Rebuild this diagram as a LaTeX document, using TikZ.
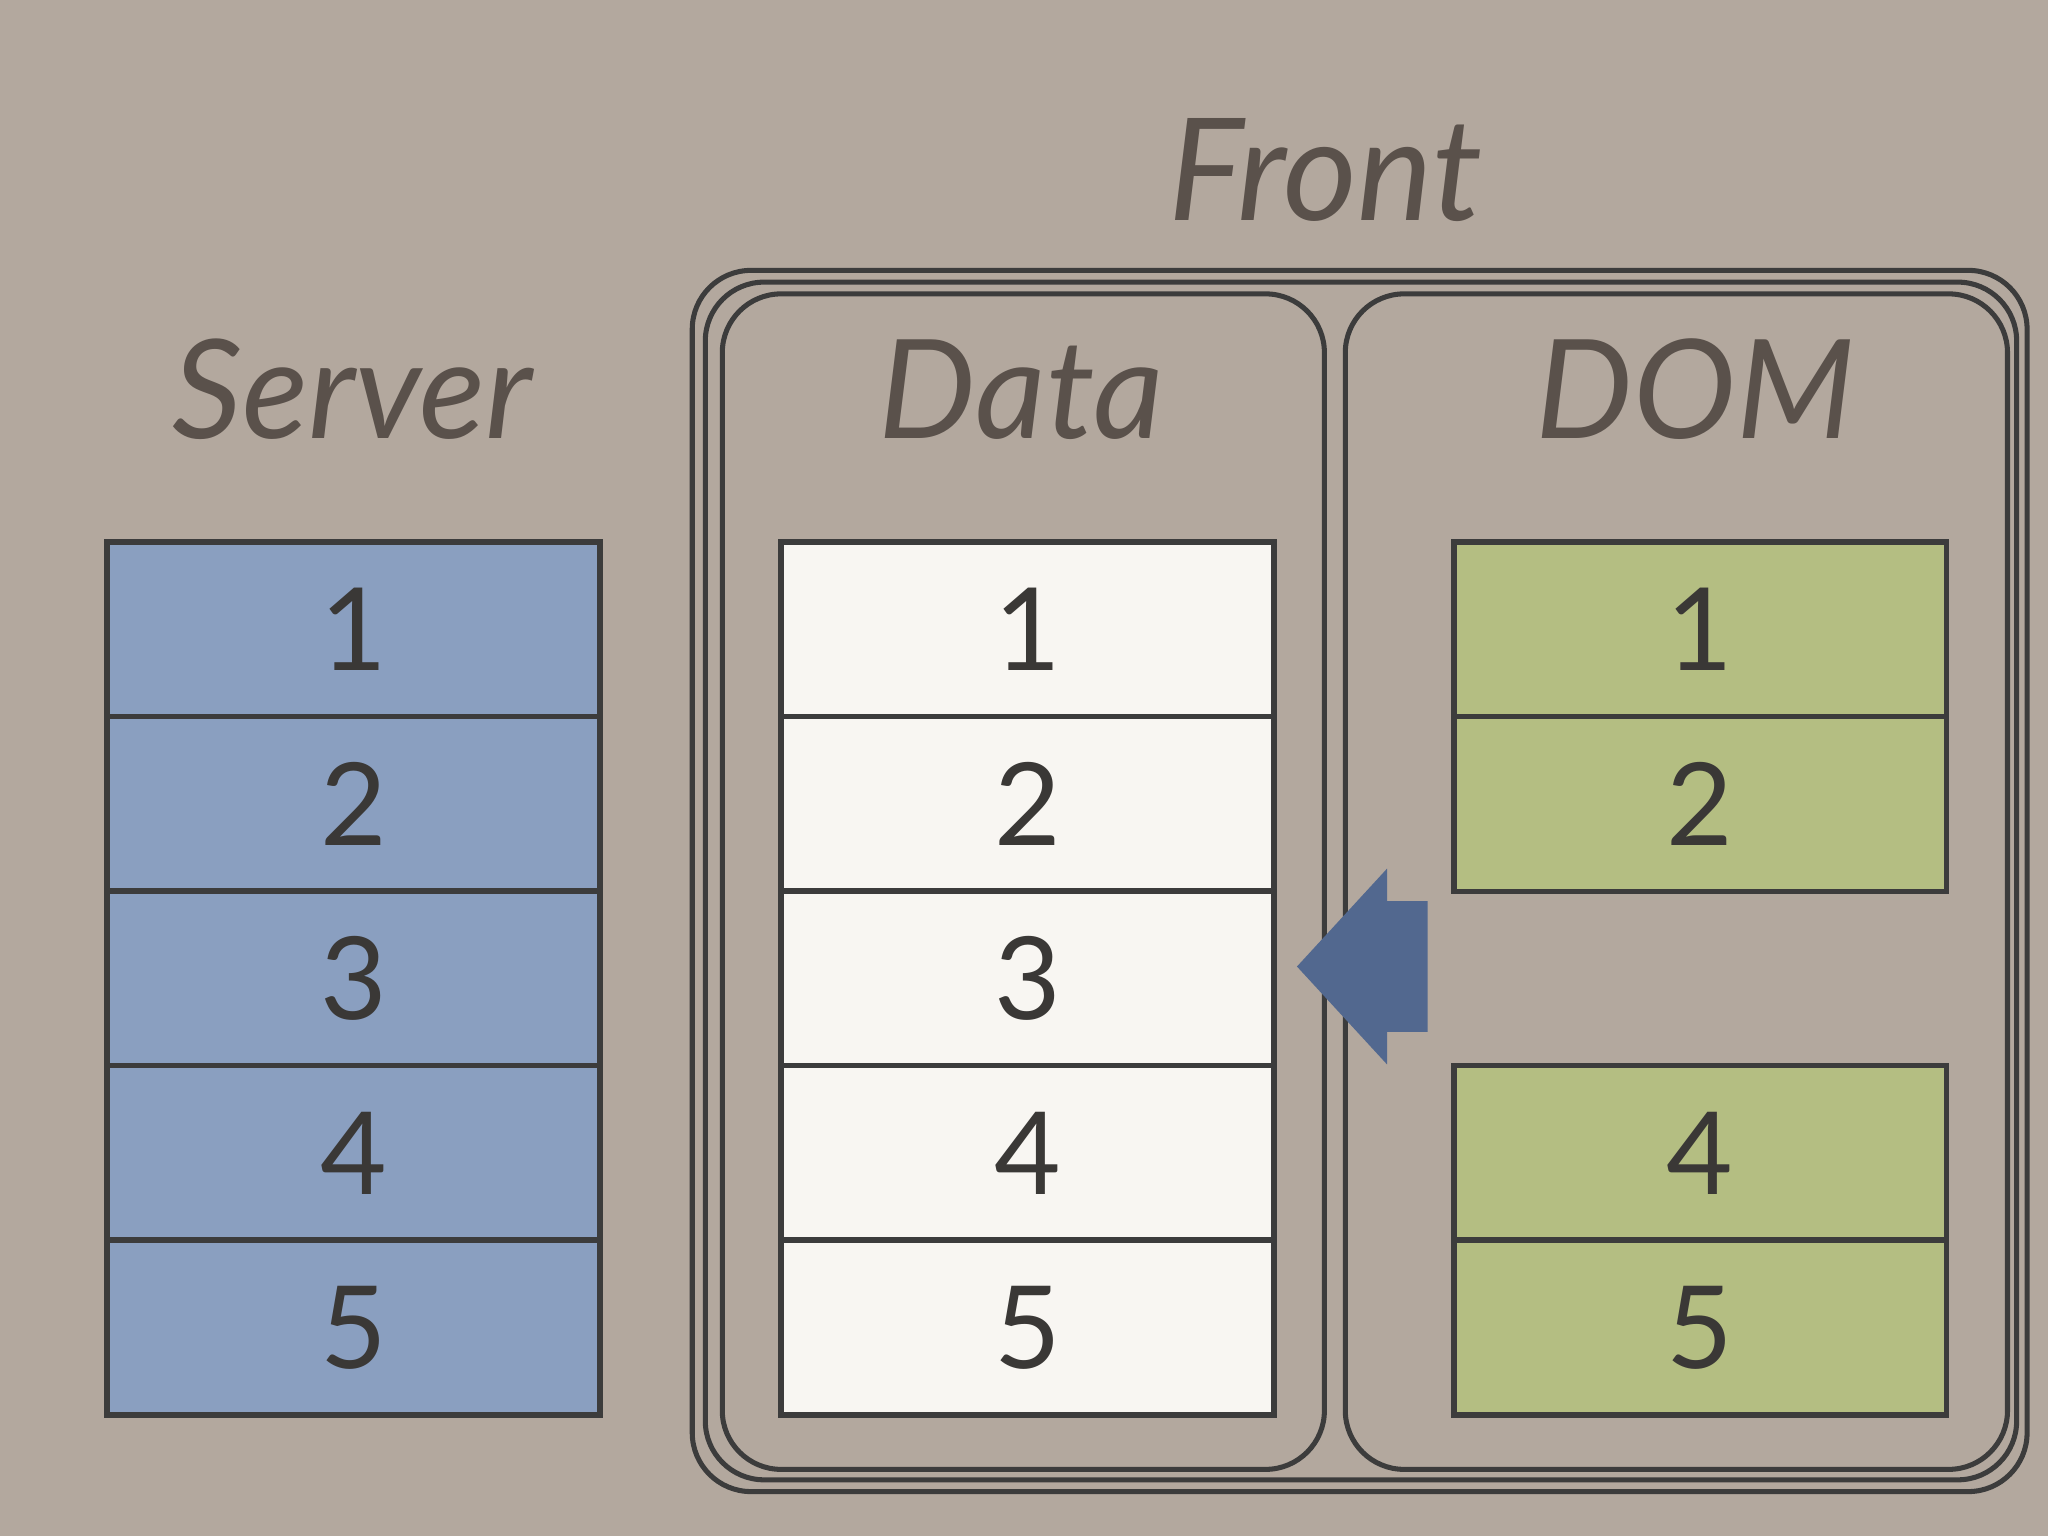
\documentclass[tikz,border=0pt]{standalone}
\usepackage{fontspec}
\setmainfont{Lato}
\definecolor{bg}{HTML}{B3A89E}
\definecolor{ttl}{HTML}{5A514B}
\definecolor{srv}{HTML}{8A9FC0}
\definecolor{dat}{HTML}{F8F6F2}
\definecolor{dom}{HTML}{B4BE82}
\definecolor{arr}{HTML}{52688F}
\definecolor{edge}{HTML}{3C3C3C}
\definecolor{num}{HTML}{3A3836}
\begin{document}
\begin{tikzpicture}[x=0.01cm,y=-0.01cm,
  cell/.style={draw=edge,line width=1.2pt,minimum width=3.77cm,minimum height=1.336cm,inner sep=0,text=num,font=\fontsize{25}{25}\selectfont,anchor=north west},
  ttlstyle/.style={text=ttl,font=\itshape\fontsize{30}{30}\selectfont},
  frame/.style={draw=edge,line width=1.1pt,rounded corners=0.45cm}]
\fill[bg] (0,0) rectangle (1568,1176);
\useasboundingbox (0,0) rectangle (1568,1176);
\draw[frame] (530,207) rectangle (1552,1142);
\draw[frame] (540,216) rectangle (1544,1133);
\draw[frame] (553,225) rectangle (1014,1125) node[coordinate](dataframe){};
\draw[frame] (1030,225) rectangle (1537,1125) node[coordinate](domframe){};
\node[ttlstyle,font=\itshape\fontsize{31}{31}\selectfont] (front) at (1015,130) {Front};
\node[ttlstyle] (server) at (270,298) {Server};
\node[ttlstyle] (data) at (782,298) {Data};
\node[ttlstyle] (domt) at (1298,298) {DOM};
\foreach \i/\y in {1/413,2/546.6,3/680.2,4/813.8,5/947.4}{
  \node[cell,fill=srv] (s\i) at (80,\y) {\i};
  \node[cell,fill=dat] (d\i) at (596,\y) {\i};
}
\foreach \i/\y in {1/413,2/546.6,4/813.8,5/947.4}{
  \node[cell,fill=dom] (m\i) at (1111,\y) {\i};
}
\fill[arr] (993,740) -- (1062,665) -- (1062,690) -- (1093,690) -- (1093,790) -- (1062,790) -- (1062,815) -- cycle;
\end{tikzpicture}
\end{document}
